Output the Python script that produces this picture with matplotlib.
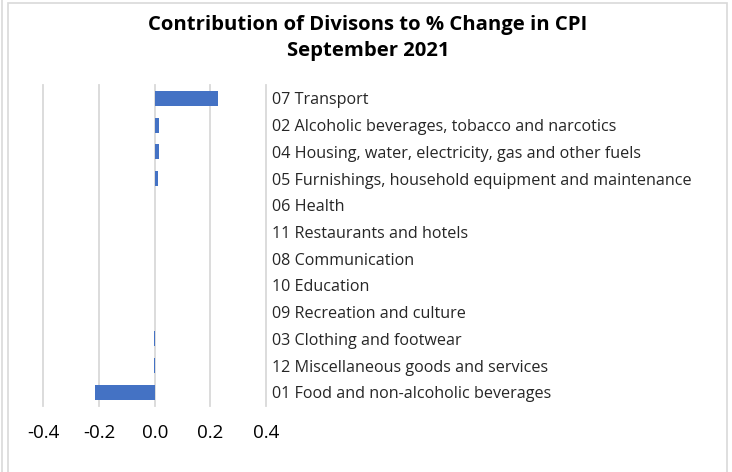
import matplotlib
matplotlib.use("Agg")
import matplotlib.pyplot as plt
from matplotlib.patches import Rectangle
from matplotlib.lines import Line2D

plt.rcParams['font.family'] = ['Open Sans', 'DejaVu Sans']

# divisions, bottom to top as drawn
divisions = [
    "01 Food and non-alcoholic beverages",
    "12 Miscellaneous goods and services",
    "03 Clothing and footwear",
    "09 Recreation and culture",
    "10 Education",
    "08 Communication",
    "11 Restaurants and hotels",
    "06 Health",
    "05 Furnishings, household equipment and maintenance",
    "04 Housing, water, electricity, gas and other fuels",
    "02 Alcoholic beverages, tobacco and narcotics",
    "07 Transport",
]
contribution = [-0.215, -0.002, -0.002, 0.0, 0.0, 0.0, 0.0, 0.0, 0.01, 0.015, 0.015, 0.228]
x_ticks = [-0.4, -0.2, 0.0, 0.2, 0.4]

W, H = 732, 472
fig = plt.figure(figsize=(W / 100, H / 100), dpi=100)

# chart frame like the spreadsheet chart box
fig.patches.append(Rectangle((8 / W, -0.05), (727 - 8) / W, 1 - 3 / H + 0.05,
                             transform=fig.transFigure, fill=False,
                             edgecolor="#d9d9d9", linewidth=1.2))
fig.lines.append(Line2D([2 / W, 2 / W], [0, 1], transform=fig.transFigure,
                        color="#d9d9d9", linewidth=1.2))

ax = fig.add_axes([43.5 / W, 1 - 405.7 / H, (266 - 43.5) / W, (405.7 - 85) / H])
y = list(range(len(divisions)))
ax.barh(y, contribution, height=0.56, color="#4472c4", linewidth=0, zorder=3)

ax.set_xlim(-0.4, 0.4)
ax.set_ylim(-0.5, len(divisions) - 0.5)
ax.set_xticks(x_ticks)
ax.set_xticklabels([f"{t:.1f}" for t in x_ticks], fontsize=13.5)
ax.tick_params(axis="x", length=0, pad=13)
ax.grid(axis="x", color="#d9d9d9", linewidth=1.3, zorder=0)
for gl in ax.get_xgridlines():
    gl.set_clip_on(False)
ax.set_axisbelow(True)

ax.yaxis.tick_right()
ax.set_yticks(y)
ax.set_yticklabels(divisions, fontsize=11.6, color="#262626")
ax.tick_params(axis="y", length=0, pad=4)

for s in ax.spines.values():
    s.set_visible(False)

fig.text(368 / W, 1 - 25 / H, "Contribution of Divisons to % Change in CPI",
         ha="center", va="center", fontsize=14.6, fontweight="bold")
fig.text(368 / W, 1 - 51 / H, "September 2021",
         ha="center", va="center", fontsize=14.6, fontweight="bold")

fig.savefig("out.png", dpi=100)
